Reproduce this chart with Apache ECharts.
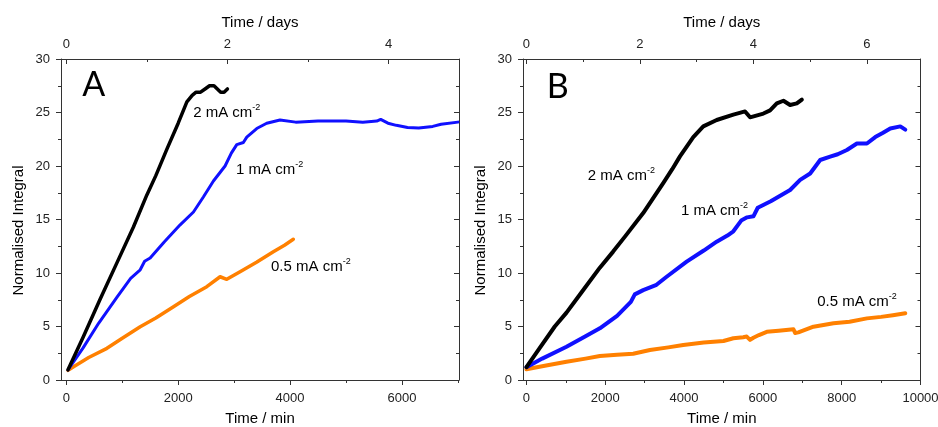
<!DOCTYPE html>
<html>
<head>
<meta charset="utf-8">
<script src="https://cdn.jsdelivr.net/npm/echarts@6/dist/echarts.min.js"></script>
<style>
html,body{margin:0;padding:0;background:#fff;}
#c{width:938px;height:427px;}
</style>
</head>
<body>
<div id="c"></div>
<script>
// ---------- Panel A data (time in min, normalised integral) ----------
const a2Time = [30, 300, 600, 900, 1200, 1440, 1600, 1800, 2000, 2155, 2250, 2320, 2400, 2480, 2560, 2640, 2700, 2760, 2820, 2880];
const a2Val  = [0.95, 4.0, 7.5, 10.9, 14.3, 17.3, 19.1, 21.6, 24.0, 26.0, 26.6, 26.9, 26.9, 27.2, 27.5, 27.5, 27.2, 26.9, 26.9, 27.2];

const a1Time = [30, 300, 577, 900, 1150, 1321, 1400, 1499, 1750, 2035, 2273, 2450, 2630, 2838, 2950, 3047, 3165, 3226, 3404, 3582, 3820, 4100, 4500, 5000, 5300, 5550, 5620, 5750, 5900, 6100, 6300, 6550, 6700, 7000];
const a1Val  = [0.95, 3.0, 5.3, 7.7, 9.5, 10.3, 11.1, 11.4, 12.9, 14.5, 15.7, 17.1, 18.6, 20.0, 21.2, 22.0, 22.2, 22.7, 23.5, 24.0, 24.3, 24.1, 24.2, 24.2, 24.1, 24.2, 24.35, 24.0, 23.8, 23.6, 23.55, 23.7, 23.9, 24.1];

const a05Time = [30, 130, 400, 726, 1000, 1321, 1600, 1916, 2200, 2511, 2749, 2868, 3106, 3400, 3701, 3900, 4058];
const a05Val  = [0.9, 1.24, 2.1, 2.96, 3.9, 4.98, 5.8, 6.85, 7.8, 8.72, 9.65, 9.41, 10.12, 11.0, 11.99, 12.6, 13.15];

// ---------- Panel B data ----------
const b2Time = [0, 300, 719, 1017, 1400, 1863, 2200, 2500, 2963, 3200, 3471, 3700, 3896, 4234, 4488, 4828, 5251, 5548, 5675, 6013, 6183, 6353, 6521, 6691, 6861, 6989];
const b2Val  = [1.2, 2.8, 5.0, 6.3, 8.2, 10.5, 12.0, 13.4, 15.6, 16.9, 18.4, 19.7, 20.9, 22.7, 23.7, 24.3, 24.8, 25.1, 24.55, 24.9, 25.2, 25.85, 26.1, 25.7, 25.85, 26.2];

const b1Time = [0, 400, 1017, 1500, 1863, 2300, 2650, 2750, 2963, 3300, 3558, 4066, 4500, 4828, 5100, 5251, 5450, 5600, 5760, 5870, 6200, 6691, 6946, 7200, 7454, 7708, 7900, 8132, 8386, 8640, 8852, 9050, 9233, 9487, 9614];
const b1Val  = [1.2, 2.0, 3.11, 4.1, 4.83, 6.0, 7.3, 8.0, 8.4, 8.9, 9.65, 11.06, 12.1, 12.93, 13.5, 13.9, 14.9, 15.2, 15.3, 16.1, 16.7, 17.76, 18.7, 19.3, 20.56, 20.87, 21.1, 21.5, 22.1, 22.1, 22.7, 23.1, 23.5, 23.7, 23.4];

const b05Time = [0, 500, 1017, 1500, 1863, 2300, 2709, 3134, 3600, 3980, 4500, 5000, 5251, 5500, 5590, 5675, 5759, 5900, 6099, 6400, 6776, 6818, 6900, 7284, 7792, 8200, 8640, 9000, 9300, 9614];
const b05Val  = [1.0, 1.35, 1.71, 2.0, 2.24, 2.35, 2.45, 2.8, 3.05, 3.27, 3.5, 3.65, 3.9, 4.0, 4.06, 3.75, 3.95, 4.2, 4.5, 4.6, 4.74, 4.4, 4.45, 4.98, 5.3, 5.45, 5.76, 5.9, 6.05, 6.23];

// ---------- tick labels ----------
const aMinTicks = [0, 2000, 4000, 6000];
const aMinMinor = [1000, 3000, 5000, 7000];
const aDayTicks = [0, 2, 4];
const aDayMinor = [1, 3];
const bMinTicks = [0, 2000, 4000, 6000, 8000, 10000];
const bMinMinor = [1000, 3000, 5000, 7000, 9000];
const bDayTicks = [0, 2, 4, 6];
const bDayMinor = [1, 3, 5];

const MIN_PER_DAY = 1440;
const A_X = [-95, 7020];
const B_X = [-87, 10000];

const FONT = 'Liberation Sans, Arial, sans-serif';
const AX = '#333';
const zip = (t, v) => t.map((x, i) => [x, v[i]]);
const plain = v => String(Math.round(v * 1000) / 1000);

const rich = {
  t: {fontSize: 15, fontFamily: FONT, color: '#000', lineHeight: 20, verticalAlign: 'middle'},
  s: {fontSize: 9, fontFamily: FONT, color: '#000', lineHeight: 9, verticalAlign: 'top'}
};
function note(x, y, base, sup) {
  return {coord: [x, y], symbol: 'circle', symbolSize: 0,
    label: {show: true, position: 'right', distance: 0, formatter: '{t|' + base + '}{s|' + sup + '}', rich: rich}};
}
function letter(x, y, txt) {
  return {coord: [x, y], symbol: 'circle', symbolSize: 0,
    label: {show: true, position: 'right', distance: 0, formatter: txt,
      fontSize: 34, fontFamily: 'Lato, Open Sans, sans-serif', color: '#000'}};
}

function mainX(grid, pos, range, ticks, name, inside, gap, margin) {
  return {
    type: 'value', gridIndex: grid, position: pos, min: range[0], max: range[1],
    name: name, nameLocation: 'middle', nameGap: gap,
    nameTextStyle: {fontSize: 15, fontFamily: FONT, color: '#000'},
    axisLine: {show: true, onZero: false, lineStyle: {color: AX, width: 1}},
    axisTick: {show: true, inside: inside, length: 5, customValues: ticks, lineStyle: {color: AX}},
    axisLabel: {show: true, customValues: ticks, formatter: plain, fontSize: 13, fontFamily: FONT, color: '#222', margin: margin,
      showMinLabel: true, showMaxLabel: true},
    splitLine: {show: false}
  };
}
function minorX(grid, pos, range, ticks, inside) {
  return {
    type: 'value', gridIndex: grid, position: pos, min: range[0], max: range[1],
    axisLine: {show: false, onZero: false},
    axisTick: {show: true, inside: inside, length: 3, customValues: ticks, lineStyle: {color: AX}},
    axisLabel: {show: false},
    splitLine: {show: false}
  };
}
function yAx(grid, pos, labels) {
  return {
    type: 'value', gridIndex: grid, position: pos, min: 0, max: 30, interval: 5,
    name: labels ? 'Normalised Integral' : '', nameLocation: 'middle', nameGap: 35,
    nameTextStyle: {fontSize: 15, fontFamily: FONT, color: '#000', padding: [0, 22, 0, 0]},
    axisLine: {show: true, onZero: false, lineStyle: {color: AX, width: 1}},
    axisTick: {show: true, inside: !labels, length: 5, lineStyle: {color: AX}},
    minorTick: {show: true, splitNumber: 2, length: 3, lineStyle: {color: AX}},
    axisLabel: {show: labels, formatter: plain, fontSize: 13, fontFamily: FONT, color: '#222', margin: 11},
    splitLine: {show: false}, minorSplitLine: {show: false}
  };
}
function hiddenY(grid) {
  return {type: 'value', gridIndex: grid, min: 0, max: 30, show: false};
}
function line(name, data, color, w, xi, yi, mp) {
  const s = {name: name, type: 'line', xAxisIndex: xi, yAxisIndex: yi, data: data,
    symbol: 'none', smooth: false, lineStyle: {color: color, width: w, join: 'round', cap: 'round'},
    itemStyle: {color: color}, animation: false, z: 3};
  if (mp) s.markPoint = {data: mp, animation: false};
  return s;
}

const gA = {left: 61, top: 59, width: 398, height: 321, containLabel: false, outerBoundsMode: 'none'};
const gB = {left: 523, top: 59, width: 397.5, height: 321, containLabel: false, outerBoundsMode: 'none'};

const option = {
  backgroundColor: '#fff',
  animation: false,
  grid: [gA, gB, Object.assign({}, gA), Object.assign({}, gB)],
  xAxis: [
    mainX(0, 'bottom', A_X, aMinTicks, 'Time / min', false, 31, 12),
    mainX(0, 'top', [A_X[0] / MIN_PER_DAY, A_X[1] / MIN_PER_DAY], aDayTicks, 'Time / days', true, 29, 8),
    mainX(1, 'bottom', B_X, bMinTicks, 'Time / min', false, 31, 12),
    mainX(1, 'top', [B_X[0] / MIN_PER_DAY, B_X[1] / MIN_PER_DAY], bDayTicks, 'Time / days', true, 29, 8),
    minorX(2, 'bottom', A_X, aMinMinor, false),
    minorX(2, 'top', [A_X[0] / MIN_PER_DAY, A_X[1] / MIN_PER_DAY], aDayMinor, true),
    minorX(3, 'bottom', B_X, bMinMinor, false),
    minorX(3, 'top', [B_X[0] / MIN_PER_DAY, B_X[1] / MIN_PER_DAY], bDayMinor, true)
  ],
  yAxis: [
    yAx(0, 'left', true), yAx(0, 'right', false),
    yAx(1, 'left', true), yAx(1, 'right', false),
    hiddenY(2), hiddenY(3)
  ],
  series: [
    line('A 0.5 mA', zip(a05Time, a05Val), '#ff8000', 3.5, 0, 0, [note(3659, 10.56, '0.5 mA cm', '-2')]),
    line('A 1 mA', zip(a1Time, a1Val), '#1010ff', 3, 0, 0, [note(3035, 19.6, '1 mA cm', '-2')]),
    line('A 2 mA', zip(a2Time, a2Val), '#000000', 3.5, 0, 0, [note(2267, 24.95, '2 mA cm', '-2'), letter(286, 27.6, 'A')]),
    line('B 0.5 mA', zip(b05Time, b05Val), '#ff8000', 4, 2, 2, [note(7377, 7.29, '0.5 mA cm', '-2')]),
    line('B 1 mA', zip(b1Time, b1Val), '#1010ff', 4, 2, 2, [note(3921, 15.8, '1 mA cm', '-2')]),
    line('B 2 mA', zip(b2Time, b2Val), '#000000', 4, 2, 2, [note(1558, 19.07, '2 mA cm', '-2'), letter(516, 27.4, 'B')])
  ]
};

const chart = echarts.init(document.getElementById('c'), null, {renderer: 'canvas'});
chart.setOption(option);
</script>
</body>
</html>
